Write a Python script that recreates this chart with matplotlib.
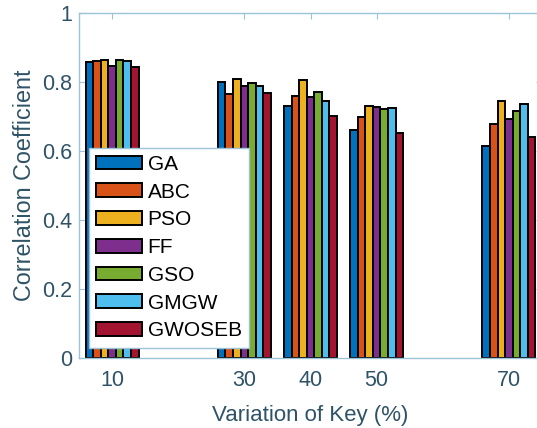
import matplotlib.pyplot as plt
import numpy as np

plt.rcParams['font.family'] = ['Liberation Sans', 'DejaVu Sans']

# key variation levels (%) and correlation coefficient per method
keys = [10, 30, 40, 50, 70]
methods = ['GA', 'ABC', 'PSO', 'FF', 'GSO', 'GMGW', 'GWOSEB']
ga = [0.857, 0.801, 0.730, 0.660, 0.614]
abc = [0.862, 0.764, 0.758, 0.698, 0.677]
pso = [0.865, 0.808, 0.807, 0.729, 0.746]
ff = [0.846, 0.787, 0.757, 0.728, 0.692]
gso = [0.863, 0.796, 0.770, 0.721, 0.716]
gmgw = [0.862, 0.788, 0.745, 0.724, 0.735]
gwoseb = [0.843, 0.767, 0.701, 0.653, 0.642]

series = [ga, abc, pso, ff, gso, gmgw, gwoseb]
colors = ['#0072BD', '#D95319', '#EDB120', '#7E2F8E', '#77AC30', '#4DBEEE', '#A2142F']

txt = '#2f5366'
axc = '#9cc3d8'

fig = plt.figure(figsize=(5.37, 4.28), dpi=100)
ax = fig.add_axes([79 / 537, 70 / 428, 463 / 537, 345 / 428])

n = len(series)
w = 8.0 / n
x = np.array(keys, dtype=float)
for i, (vals, c, name) in enumerate(zip(series, colors, methods)):
    ax.bar(x + (i - (n - 1) / 2) * w, vals, width=w, color=c,
           edgecolor='black', linewidth=1.4, label=name, zorder=2)

ax.set_xlim(5, 75)
ax.set_ylim(0, 1)
ax.set_xticks(keys)
ax.set_yticks([0, 0.2, 0.4, 0.6, 0.8, 1])
ax.set_yticklabels(['0', '0.2', '0.4', '0.6', '0.8', '1'])
ax.tick_params(direction='in', length=4, color=axc, labelcolor=txt,
               labelsize=15.5, top=True, right=True)
ax.tick_params(axis='x', pad=9)
ax.tick_params(axis='y', pad=5)
for s in ax.spines.values():
    s.set_color(axc)
    s.set_linewidth(1.0)

ax.set_xlabel('Variation of Key (%)', fontsize=16, color=txt, labelpad=10)
ax.set_ylabel('Correlation Coefficient', fontsize=16.8, color=txt, labelpad=4)

leg = ax.legend(loc='lower left', bbox_to_anchor=(0.022, 0.03), fontsize=15,
                handlelength=2.2, handleheight=0.65, labelspacing=0.42,
                handletextpad=0.25, borderpad=0.35, borderaxespad=0,
                frameon=True, fancybox=False, framealpha=1)
leg.get_frame().set_edgecolor(axc)
leg.get_frame().set_linewidth(1.0)
leg.set_zorder(5)

fig.savefig('out.png', dpi=100)
